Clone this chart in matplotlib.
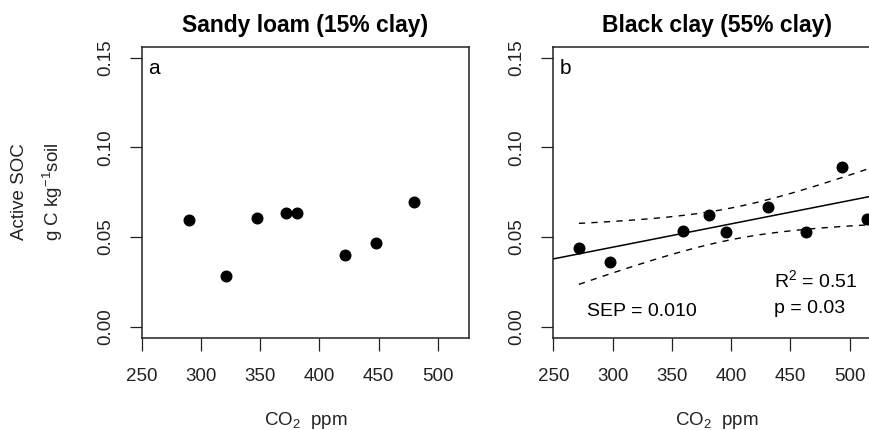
import numpy as np
import matplotlib
matplotlib.use('Agg')
import matplotlib.pyplot as plt

plt.rcParams['font.family'] = ['Liberation Sans', 'DejaVu Sans']
plt.rcParams['mathtext.default'] = 'regular'

# panel a: sandy loam
co2_a = [290, 321, 347, 372, 381, 422, 448, 480]
soc_a = [0.0595, 0.0284, 0.0604, 0.0632, 0.0632, 0.0401, 0.0465, 0.0693]

# panel b: black clay
co2_b = [271.6, 298, 359.5, 381, 396, 431, 463, 493.5, 515]
soc_b = [0.0437, 0.0362, 0.0535, 0.0623, 0.0530, 0.0669, 0.0526, 0.0892, 0.0600]

titles = ['Sandy loam (15% clay)', 'Black clay (55% clay)']
panel_tags = ['a', 'b']
xticks = [250, 300, 350, 400, 450, 500]
yticks = [0.00, 0.05, 0.10, 0.15]
ytick_labels = ['0.00', '0.05', '0.10', '0.15']
t_crit = 2.365  # t(0.975, df=7)

W, H = 870, 430
fig = plt.figure(figsize=(W / 100, H / 100), dpi=100)


def px_axes(left, top, right, bottom):
    # build axes from pixel box (origin top-left)
    return fig.add_axes([left / W, 1 - bottom / H, (right - left) / W, (bottom - top) / H])


ax_a = px_axes(141.7, 47.3, 469.3, 337.7)
ax_b = px_axes(553.3, 47.3, 881.0, 337.7)

for ax, x, y, title, tag in zip([ax_a, ax_b], [co2_a, co2_b], [soc_a, soc_b], titles, panel_tags):
    ax.scatter(x, y, s=58, color='black', zorder=3, clip_on=True)
    ax.set_xlim(250, 526.5)
    ax.set_ylim(-0.0061, 0.1558)
    ax.set_xticks(xticks)
    ax.set_xticklabels([str(v) for v in xticks], fontsize=13.5, color='#222222')
    ax.set_yticks(yticks)
    ax.set_yticklabels(ytick_labels, fontsize=13.5, rotation=90, va='center', color='#222222')
    ax.tick_params(axis='both', length=9, width=0.9, color='#222222')
    ax.tick_params(axis='x', pad=13)
    ax.tick_params(axis='y', pad=11)
    for sp in ax.spines.values():
        sp.set_linewidth(1.1)
        sp.set_color('#222222')
    ax.set_title(title, fontsize=16.5, fontweight='bold', pad=11)
    ax.set_xlabel('CO$_2$  ppm', fontsize=13.5, labelpad=18, color='#222222')
    ax.text(0.019, 0.908, tag, transform=ax.transAxes, fontsize=15, va='baseline', ha='left')

# regression fit with 95% confidence band on panel b
xb = np.array(co2_b)
yb = np.array(soc_b)
slope, intercept = np.polyfit(xb, yb, 1)
resid = yb - (slope * xb + intercept)
n = len(xb)
s = np.sqrt(np.sum(resid ** 2) / (n - 2))
sxx = np.sum((xb - xb.mean()) ** 2)

xline = np.array([250, 526.5])
ax_b.plot(xline, slope * xline + intercept, color='black', lw=1.1)

xband = np.linspace(xb.min(), xb.max(), 100)
yfit = slope * xband + intercept
half = t_crit * s * np.sqrt(1 / n + (xband - xb.mean()) ** 2 / sxx)
ax_b.plot(xband, yfit + half, color='black', lw=1.0, linestyle=(0, (4.5, 4.5)))
ax_b.plot(xband, yfit - half, color='black', lw=1.0, linestyle=(0, (4.5, 4.5)))

ax_b.text(0.102, 0.0747, 'SEP = 0.010', transform=ax_b.transAxes, fontsize=14, va='baseline')
ax_b.text(0.674, 0.1736, 'R$^2$ = 0.51', transform=ax_b.transAxes, fontsize=14, va='baseline')
ax_b.text(0.674, 0.084, 'p = 0.03', transform=ax_b.transAxes, fontsize=14, va='baseline')

# two-line y axis label
fig.text(20 / W, 1 - 192 / H, 'Active SOC', rotation=90, fontsize=13.5, ha='center', va='center', color='#222222')
fig.text(53 / W, 1 - 192 / H, 'g C kg$^{-1}$soil', rotation=90, fontsize=13.5, ha='center', va='center', color='#222222')

fig.savefig('out.png', dpi=100)
